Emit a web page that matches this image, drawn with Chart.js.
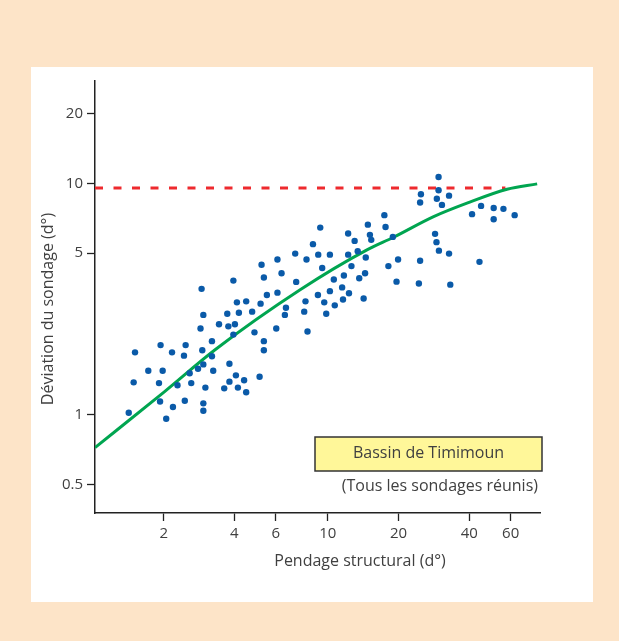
<!DOCTYPE html>
<html><head><meta charset="utf-8">
<script src="https://cdn.jsdelivr.net/npm/chart.js@4.4.1/dist/chart.umd.min.js"></script>
<style>html,body{margin:0;padding:0;background:#fde4c8;overflow:hidden}#c{display:block}</style>
</head><body>
<canvas id="c" width="619" height="641"></canvas>
<script>
// ---- data (log-log axes) ----
const pendage = [
 1.42,1.51,1.49,1.72,1.94,1.98,1.91,1.93,2.05,2.17,
 2.19,2.29,2.46,2.48,2.44,2.58,2.62,2.80,2.95,2.92,
 3.01,2.95,2.95,3.21,3.21,3.25,3.96,5.34,6.35,2.90,
 4.10,4.49,5.17,5.50,6.10,6.63,6.56,2.95,3.73,4.18,
 4.76,2.87,3.44,3.77,4.02,3.96,4.87,6.03,5.34,5.34,
 3.81,4.06,5.12,3.81,4.40,3.62,4.14,4.49,5.22,9.28,
 12.2,13.0,8.64,13.4,7.26,8.11,9.10,10.2,12.2,6.10,
 9.46,12.6,7.33,10.6,11.7,13.6,9.07,10.2,11.5,12.3,
 8.03,9.65,10.7,11.6,7.93,9.84,8.19,24.7,29.1,17.4,
 14.8,17.6,15.1,15.3,18.9,28.6,29.0,29.7,14.5,18.1,
 19.9,24.7,14.4,19.6,24.4,14.2,29.6,24.9,29.6,32.8,
 30.6,44.9,50.8,55.9,41.1,50.8,62.4,32.8,44.2,33.2
];
const deviation = [
 1.02,1.86,1.38,1.55,2.00,1.55,1.37,1.14,0.96,1.86,
 1.08,1.34,1.15,2.00,1.80,1.51,1.37,1.58,1.65,1.90,
 1.31,1.12,1.04,2.08,1.79,1.55,3.80,3.92,4.09,3.50,
 3.06,3.09,3.02,3.29,3.37,2.90,2.70,2.70,2.73,2.76,
 2.79,2.36,2.46,2.41,2.46,2.22,2.27,2.36,2.08,1.90,
 1.66,1.48,1.46,1.39,1.41,1.30,1.31,1.25,4.45,6.44,
 6.07,5.64,5.46,5.09,4.97,4.69,4.92,4.92,4.92,4.69,
 4.31,4.39,3.75,3.84,4.00,3.89,3.29,3.42,3.55,3.35,
 3.09,3.06,2.97,3.15,2.79,2.73,2.29,8.26,8.58,7.29,
 6.63,6.48,5.99,5.70,5.87,6.05,5.57,5.12,4.78,4.39,
 4.69,4.63,4.09,3.76,3.69,3.18,10.66,8.98,9.34,8.85,
 8.07,7.99,7.83,7.76,7.36,7.00,7.29,4.97,4.58,3.65
];
const curveX = [1.02, 2.0, 3.31, 7.62, 14.67, 19.05, 28.2, 39.1, 57.9, 77.8];
const curveY = [0.721, 1.25, 1.91, 3.47, 5.16, 5.85, 7.18, 8.21, 9.43, 9.95];
const limitX = [1.02, 57];
const limitY = [9.55, 9.55];
const xTickValues = [2, 4, 6, 10, 20, 40, 60];
const yTickValues = [0.5, 1, 5, 10, 20];
const xRange = [1.02, 80];
const yRange = [0.376, 27.7];
const xTitle = 'Pendage structural (d°)';
const yTitle = 'Déviation du sondage (d°)';
const boxTitle = 'Bassin de Timimoun';
const boxNote = '(Tous les sondages réunis)';

const FONT = '"Open Sans", "DejaVu Sans", sans-serif';
const TXT = '#404040';

const pts = pendage.map((x, i) => ({x, y: deviation[i]}));
const curve = curveX.map((x, i) => ({x, y: curveY[i]}));
const limit = limitX.map((x, i) => ({x, y: limitY[i]}));

const deco = {
  id: 'deco',
  beforeDraw(chart) {
    const c = chart.ctx;
    c.save();
    c.fillStyle = '#fde4c8';
    c.fillRect(0, 0, chart.width, chart.height);
    c.fillStyle = '#ffffff';
    c.fillRect(31, 67, 562, 535);
    c.restore();
  },
  afterDraw(chart) {
    const c = chart.ctx;
    c.save();
    c.fillStyle = TXT;
    c.font = '16px ' + FONT;
    c.textAlign = 'center';
    c.textBaseline = 'middle';
    c.fillText(xTitle, 360, 561);
    c.translate(48, 309);
    c.rotate(-Math.PI / 2);
    c.fillText(yTitle, 0, 0);
    c.restore();

    c.save();
    c.fillStyle = '#fff799';
    c.fillRect(315, 437, 227, 34);
    c.strokeStyle = '#333';
    c.lineWidth = 1.5;
    c.strokeRect(315, 437, 227, 34);
    c.fillStyle = TXT;
    c.font = '16px ' + FONT;
    c.textAlign = 'center';
    c.textBaseline = 'middle';
    c.fillText(boxTitle, 428.5, 453);
    c.textAlign = 'right';
    c.fillText(boxNote, 538, 486);
    c.restore();
  }
};

const axisCommon = (tickVals) => ({
  type: 'logarithmic',
  afterBuildTicks(s) { s.ticks = tickVals.map(v => ({value: v})); },
  ticks: {
    callback: (v) => String(v),
    font: {family: FONT, size: 15},
    color: TXT,
    autoSkip: false,
    maxRotation: 0,
    padding: 4
  },
  grid: {display: true, drawOnChartArea: false, drawTicks: true, tickLength: 8, tickColor: '#222', tickWidth: 1.3, color: '#222'},
  border: {display: true, color: '#222', width: 1.5},
  title: {display: false}
});

const xScale = Object.assign(axisCommon(xTickValues), {min: xRange[0], max: xRange[1], afterFit(s) { s.height = 128; }});
const yScale = Object.assign(axisCommon(yTickValues), {min: yRange[0], max: yRange[1], afterFit(s) { s.width = 95; }});

new Chart(document.getElementById('c'), {
  type: 'scatter',
  data: {
    datasets: [
      {label: 'sondages', data: pts, backgroundColor: '#0a5aa8', borderWidth: 0, pointRadius: 3.2, pointHoverRadius: 3.2, order: 0},
      {label: 'courbe', data: curve, showLine: true, borderColor: '#00a550', borderWidth: 3, pointRadius: 0, cubicInterpolationMode: 'monotone', fill: false, order: 1},
      {label: 'limite', data: limit, showLine: true, borderColor: '#ee2a2e', borderWidth: 3, borderDash: [8, 10.5], pointRadius: 0, fill: false, order: 2}
    ]
  },
  options: {
    responsive: false,
    animation: false,
    devicePixelRatio: 1,
    layout: {padding: {left: 0, top: 81, right: 79, bottom: 0}},
    plugins: {legend: {display: false}, tooltip: {enabled: false}, title: {display: false}},
    scales: {x: xScale, y: yScale}
  },
  plugins: [deco]
});
</script>
</body></html>
